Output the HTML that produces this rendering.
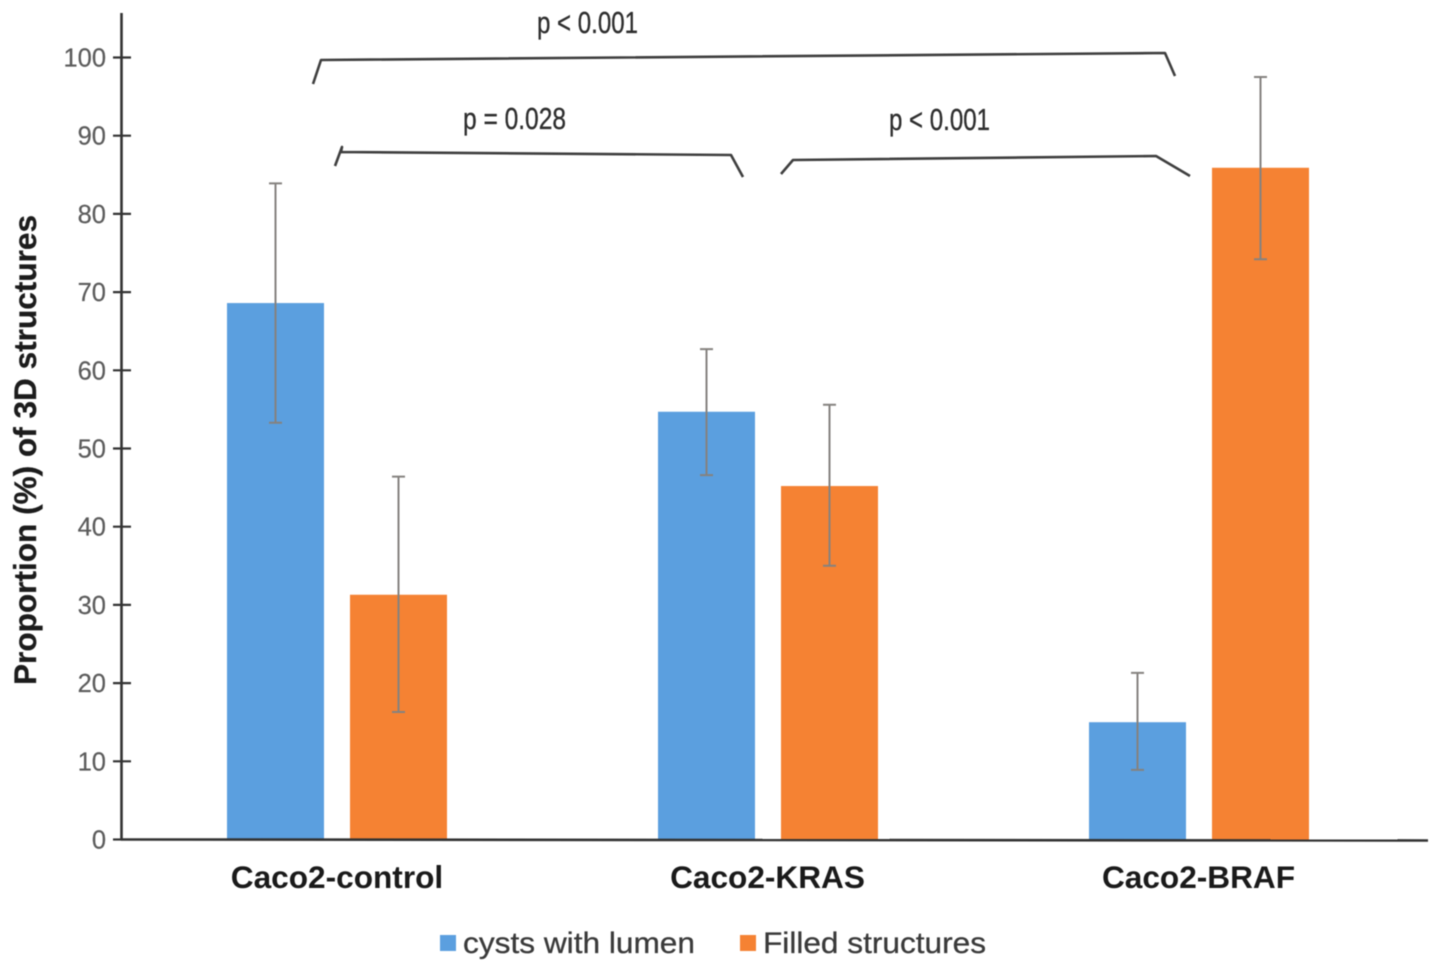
<!DOCTYPE html>
<html lang="en">
<head>
<meta charset="utf-8">
<title>Proportion of 3D structures</title>
<style>
html,body{margin:0;padding:0;background:#fff;width:1441px;height:972px;overflow:hidden}
svg{display:block;font-family:"Liberation Sans",sans-serif;filter:blur(0.45px)}
</style>
</head>
<body>
<svg id="chart" width="1441" height="972" viewBox="0 0 1441 972" xmlns="http://www.w3.org/2000/svg">
  <rect width="1441" height="972" fill="#fff"/>
  <g id="bars"></g>
  <g id="errors"></g>
  <g id="axes"></g>
  <text transform="translate(36,685) rotate(-90)" font-size="31.5" font-weight="700" fill="#1c1c1c" stroke="#1c1c1c" stroke-width="0.3" textLength="470" lengthAdjust="spacingAndGlyphs">Proportion (%) of 3D structures</text>

  <g fill="none" stroke="#3f3f3f" stroke-width="2.6" stroke-linejoin="round">
    <polyline points="313,84 321,60 1165,53 1175,76"/>
    <polyline points="335,166 342,147 341,152 731,155 743,177"/>
    <polyline points="781,174 793,160 1156,156 1190,176"/>
  </g>
  <g font-size="31" fill="#2e2e2e" stroke="#2e2e2e" stroke-width="0.35">
    <text x="537" y="33" textLength="101" lengthAdjust="spacingAndGlyphs">p &lt; 0.001</text>
    <text x="463" y="129" textLength="103" lengthAdjust="spacingAndGlyphs">p = 0.028</text>
    <text x="889" y="130" textLength="101" lengthAdjust="spacingAndGlyphs">p &lt; 0.001</text>
  </g>

  <g font-size="30" fill="#3a3a3a" stroke="#3a3a3a" stroke-width="0.3">
    <g>
      <rect x="440" y="935" width="16" height="16" fill="#5b9fdf" stroke="none"/>
      <text x="463" y="953" textLength="232" lengthAdjust="spacingAndGlyphs">cysts with lumen</text>
    </g>
    <g>
      <rect x="740" y="935" width="16" height="16" fill="#f58233" stroke="none"/>
      <text x="763" y="953" textLength="223" lengthAdjust="spacingAndGlyphs">Filled structures</text>
    </g>
  </g>
</svg>
<script>
const categories = ['Caco2-control', 'Caco2-KRAS', 'Caco2-BRAF'];
const cystsValues = [68.6, 54.7, 15.0];
const cystsErrorHigh = [83.9, 62.7, 21.3];
const cystsErrorLow = [53.3, 46.6, 8.9];
const filledValues = [31.3, 45.2, 85.9];
const filledErrorHigh = [46.4, 55.6, 97.5];
const filledErrorLow = [16.3, 35.0, 74.2];
const yTicks = [0, 10, 20, 30, 40, 50, 60, 70, 80, 90, 100];

const NS = 'http://www.w3.org/2000/svg';
const y = v => 839.5 - v * 7.82;
const groupCenter = i => 337 + i * 431;
const BAR_WIDTH = 97;
const BAR_OFFSET = 61.5;

function make(parent, tag, attrs, text) {
  const el = document.createElementNS(NS, tag);
  for (const k in attrs) el.setAttribute(k, attrs[k]);
  if (text !== undefined) el.textContent = text;
  parent.appendChild(el);
  return el;
}

const barsG = document.getElementById('bars');
const errG = document.getElementById('errors');
const axesG = document.getElementById('axes');

function drawSeries(key, values, highs, lows, offset, color) {
  values.forEach((v, i) => {
    const cx = groupCenter(i) + offset;
    const bar = make(barsG, 'rect', {x: cx - BAR_WIDTH / 2, y: y(v), width: BAR_WIDTH, height: y(0) - y(v), fill: color});
    
    

    const err = make(errG, 'path', {
      d: 'M' + cx + ' ' + y(highs[i]) + 'V' + y(lows[i]) +
         'M' + (cx - 6.5) + ' ' + y(highs[i]) + 'H' + (cx + 6.5) +
         'M' + (cx - 6.5) + ' ' + y(lows[i]) + 'H' + (cx + 6.5),
      fill: 'none', stroke: '#85827f', 'stroke-width': 2
    });
    
    
  });
}
drawSeries('cysts', cystsValues, cystsErrorHigh, cystsErrorLow, -BAR_OFFSET, '#5b9fdf');
drawSeries('filled', filledValues, filledErrorHigh, filledErrorLow, BAR_OFFSET, '#f58233');

const yAxisLine = make(axesG, 'line', {x1: 121.5, y1: 13, x2: 121.5, y2: 840, stroke: '#333', 'stroke-width': 2.6});



const xAxisLine = make(axesG, 'line', {x1: 121, y1: 839.5, x2: 1428, y2: 840.5, stroke: '#333', 'stroke-width': 2.6});



yTicks.forEach(t => {
  const mark = make(axesG, 'line', {x1: 113, y1: y(t), x2: t === 0 ? 122 : 131, y2: y(t), stroke: '#333', 'stroke-width': 2.2});
  
  
  const label = make(axesG, 'text', {x: 106, y: y(t) + 9, 'text-anchor': 'end', 'font-size': 25.5, fill: '#5c5c5c', stroke: '#5c5c5c', 'stroke-width': 0.2}, String(t));
  
  
});

categories.forEach((c, i) => {
  const label = make(axesG, 'text', {x: groupCenter(i) - (i === 0 ? 0 : 0.5), y: 888, 'text-anchor': 'middle', 'font-size': 31.6, 'font-weight': 700, fill: '#1a1a1a'}, c);
  
  
});
</script>
</body>
</html>
